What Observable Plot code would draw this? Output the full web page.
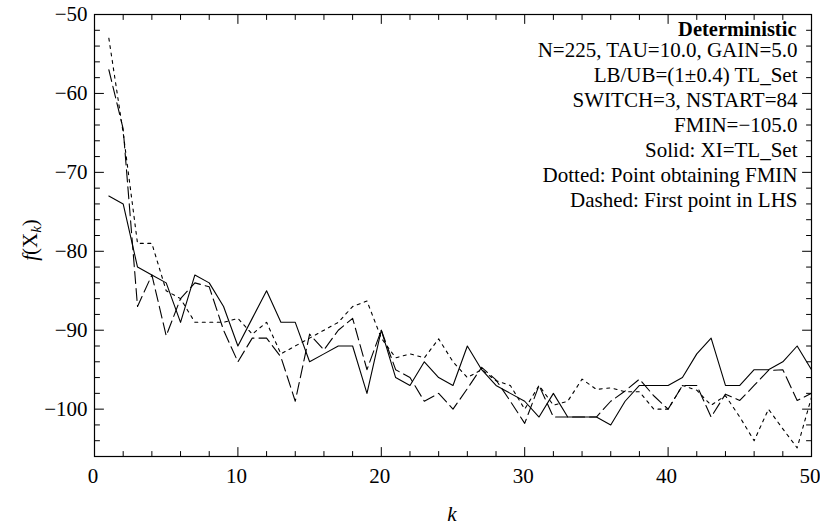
<!DOCTYPE html>
<html><head><meta charset="utf-8">
<script src="https://cdn.jsdelivr.net/npm/d3@7"></script>
<script src="https://cdn.jsdelivr.net/npm/@observablehq/plot@0.6"></script>
<style>
body{margin:0;background:#fff}
#chart svg, #chart svg text, #chart svg tspan {font-family: 'Liberation Serif', 'Times New Roman', serif;}
</style>
</head><body><div id="chart"></div>
<script>
const kValues = [1,2,3,4,5,6,7,8,9,10,11,12,13,14,15,16,17,18,19,20,21,22,23,24,25,26,27,28,29,30,31,32,33,34,35,36,37,38,39,40,41,42,43,44,45,46,47,48,49,50];
const solidXI = [-73,-74,-82,-83,-84,-89,-83,-84,-87,-92,-88.5,-85,-89,-89,-94,-93,-92,-92,-98,-90,-96,-97,-94,-96,-97,-92,-95,-97,-98,-99,-101,-98,-101,-101,-101,-102,-99,-97,-97,-97,-96,-93,-91,-97,-97,-95,-95,-94,-92,-95];
const dottedFMIN = [-53,-65,-79,-79,-85,-86,-89,-89,-89,-88.5,-90.5,-89,-93,-92,-91,-90,-89,-87,-86.3,-91,-93.5,-93,-93.5,-91.1,-94,-96,-95,-96.4,-97,-100,-97,-99.5,-99,-96.2,-97.5,-97.3,-97.8,-97.8,-100,-100,-97,-97.6,-99.5,-98.3,-101,-104,-100,-102.5,-104.9,-98.5];
const dashedLHS = [-57,-64.5,-87,-83,-90.7,-86,-84,-84.5,-90,-94,-91,-91,-93.4,-99,-90.5,-92.5,-90,-88.5,-95,-90,-95,-96,-99,-98,-100,-97.4,-94.7,-96.3,-99,-101.8,-97,-101,-101,-101,-101,-99,-97.7,-96.2,-98.3,-100,-97,-97,-101,-98.1,-98.9,-97,-95.1,-95,-98.9,-98];

const xDomain = [0, 50];
const yDomain = [-106, -50];
const xMajor = [0,10,20,30,40,50];
const xMinor = [2,4,6,8,12,14,16,18,22,24,26,28,32,34,36,38,42,44,46,48];
const yMajor = [-100,-90,-80,-70,-60,-50];
const yMinor = [-104,-102,-98,-96,-94,-92,-88,-86,-84,-82,-78,-76,-74,-72,-68,-66,-64,-62,-58,-56,-54,-52];

const titleLine = "Deterministic";
const infoLines = [
  "N=225, TAU=10.0, GAIN=5.0",
  "LB/UB=(1\u00b10.4) TL_Set",
  "SWITCH=3, NSTART=84",
  "FMIN=\u2212105.0",
  "Solid: XI=TL_Set",
  "Dotted: Point obtaining FMIN",
  "Dashed: First point in LHS"
];

const font = "'Liberation Serif', 'Times New Roman', serif";
const series = (vals) => kValues.map((k, i) => ({k, v: vals[i]}));
const tickShape = {draw(ctx, l) { ctx.moveTo(0, 0); ctx.lineTo(0, -l); }};
const fmt = d => d < 0 ? "\u2212" + Math.abs(d) : String(d);

const tickMarks = (vals, len, which) => {
  const base = {length: len, anchor: "start", shape: tickShape, stroke: "black", strokeWidth: 1};
  if (which === "bottom") return Plot.vector(vals, {...base, x: d => d, y: yDomain[0], rotate: 0});
  if (which === "top") return Plot.vector(vals, {...base, x: d => d, y: yDomain[1], rotate: 180});
  if (which === "left") return Plot.vector(vals, {...base, y: d => d, x: xDomain[0], rotate: 90});
  return Plot.vector(vals, {...base, y: d => d, x: xDomain[1], rotate: -90});
};

const chart = Plot.plot({
  width: 820,
  height: 529,
  marginLeft: 94,
  marginRight: 9,
  marginTop: 14,
  marginBottom: 73,
  style: {fontFamily: font, fontSize: "21px", background: "white", color: "black"},
  x: {domain: xDomain, axis: null},
  y: {domain: yDomain, axis: null},
  marks: [
    Plot.axisX(xMajor, {anchor: "bottom", tickSize: 0, tickPadding: 12, dx: -1.5, tickFormat: fmt, fontSize: 21, fontFamily: font, label: null}),
    Plot.axisY(yMajor, {anchor: "left", tickSize: 0, tickPadding: 7, tickFormat: fmt, fontSize: 21, fontFamily: font, label: null}),
    tickMarks(xMajor, 9, "bottom"), tickMarks(xMinor, 5, "bottom"),
    tickMarks(xMajor, 9, "top"), tickMarks(xMinor, 5, "top"),
    tickMarks(yMajor, 9, "left"), tickMarks(yMinor, 5, "left"),
    tickMarks(yMajor, 9, "right"), tickMarks(yMinor, 5, "right"),
    Plot.line(series(solidXI), {x: "k", y: "v", stroke: "black", strokeWidth: 1.1}),
    Plot.line(series(dottedFMIN), {x: "k", y: "v", stroke: "black", strokeWidth: 1.1, strokeDasharray: "3,4.5"}),
    Plot.line(series(dashedLHS), {x: "k", y: "v", stroke: "black", strokeWidth: 1.1, strokeDasharray: "12,5"}),
    Plot.frame({stroke: "black", strokeWidth: 1.2}),
    Plot.text([titleLine], {frameAnchor: "top-right", dx: -15, dy: 6.5, textAnchor: "end", fontWeight: "bold", fontSize: 20.5, fontFamily: font, fill: "black"}),
    Plot.text([infoLines.join("\n")], {frameAnchor: "top-right", dx: -14, dy: 25, textAnchor: "end", lineAnchor: "top", lineHeight: 25 / 21, fontSize: 21, fontFamily: font, fill: "black"})
  ]
});
document.getElementById("chart").appendChild(chart);

// axis titles with italic / subscript parts
const svg = d3.select(chart);
const xl = svg.append("text").attr("x", 452).attr("y", 521).attr("text-anchor", "middle")
  .attr("font-family", font).attr("font-size", 21).attr("fill", "black");
xl.append("tspan").attr("font-style", "italic").text("k");
const yl = svg.append("text").attr("transform", "translate(37,240) rotate(-90)").attr("text-anchor", "middle")
  .attr("font-family", font).attr("font-size", 21).attr("fill", "black");
yl.append("tspan").attr("font-style", "italic").text("f");
yl.append("tspan").text("(X");
yl.append("tspan").attr("font-style", "italic").attr("font-size", 15).attr("dy", 4).text("k");
yl.append("tspan").attr("dy", -4).text(")");
</script>
</body></html>
